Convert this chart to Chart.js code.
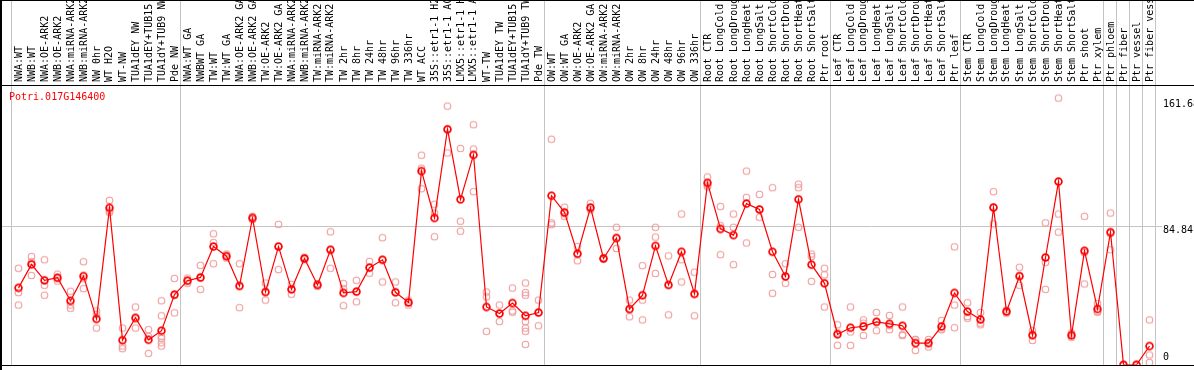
<!DOCTYPE html>
<html><head><meta charset="utf-8">
<script src="https://cdn.jsdelivr.net/npm/chart.js@4/dist/chart.umd.min.js"></script>
<style>html,body{margin:0;padding:0;background:#fff;overflow:hidden}canvas{display:block}</style>
</head><body>
<canvas id="c" width="1194" height="370"></canvas>
<script>
const geneId = 'Potri.017G146400';

const categories = [
  'NWA:WT','NWB:WT','NWA:OE-ARK2','NWB:OE-ARK2','NWA:miRNA-ARK2','NWB:miRNA-ARK2','NW 0hr','WT H2O','WT-NW','TUA1dEY NW',
  'TUA1dEY+TUB15 NW','TUA1dY+TUB9 NW','Pde NW',
  'NWA:WT GA','NWBWT GA','TW:WT','TW:WT GA','NWA:OE-ARK2 GA','NWB:OE-ARK2 GA','TW:OE-ARK2','TW:OE-ARK2 GA',
  'NWA:miRNA-ARK2 GA','NWB:miRNA-ARK2 GA','TW:miRNA-ARK2','TW:miRNA-ARK2 GA','TW 2hr','TW 8hr','TW 24hr','TW 48hr','TW 96hr','TW 336hr',
  'WT ACC','35S::etr1-1 H2O','35S::etr1-1 ACC','LMX5::etr1-1 H2O','LMX5::etr1-1 ACC','WT-TW','TUA1dEY TW','TUA1dEY+TUB15 TW','TUA1dY+TUB9 TW','Pde TW',
  'OW:WT','OW:WT GA','OW:OE-ARK2','OW:OE-ARK2 GA','OW:miRNA-ARK2','OW:miRNA-ARK2 GA','OW 2hr','OW 8hr','OW 24hr','OW 48hr','OW 96hr','OW 336hr',
  'Root CTR','Root LongCold','Root LongDrought','Root LongHeat','Root LongSalt','Root ShortCold','Root ShortDrought','Root ShortHeat','Root ShortSalt','Ptr root',
  'Leaf CTR','Leaf LongCold','Leaf LongDrought','Leaf LongHeat','Leaf LongSalt','Leaf ShortCold','Leaf ShortDrought','Leaf ShortHeat','Leaf ShortSalt','Ptr leaf',
  'Stem CTR','Stem LongCold','Stem LongDrought','Stem LongHeat','Stem LongSalt','Stem ShortCold','Stem ShortDrought','Stem ShortHeat','Stem ShortSalt','Ptr shoot',
  'Ptr xylem','Ptr phloem','Ptr fiber','Ptr vessel','Ptr fiber vessel'
];

const meanValues = [
  47.1, 61.5, 51.7, 53.3, 39.2, 54.3, 28.1, 96.1, 15.1, 28.8,
  15.3, 20.9, 43.0, 51.5, 53.5, 72.4, 66.5, 48.3, 89.9, 44.6,
  72.4, 46.2, 65.1, 48.9, 70.4, 44.0, 44.8, 59.5, 64.3, 44.4,
  38.2, 118.6, 89.9, 144.2, 101.3, 128.5, 35.4, 31.4, 37.8, 30.0,
  32.0, 103.5, 93.3, 68.0, 96.3, 65.1, 77.6, 34.2, 42.6, 72.8,
  48.9, 69.2, 43.4, 111.4, 83.2, 79.4, 98.7, 95.1, 69.2, 54.1,
  101.3, 61.3, 49.9, 18.7, 22.7, 23.5, 26.3, 25.1, 23.9, 13.3,
  13.3, 23.5, 44.0, 32.6, 27.7, 96.3, 32.6, 54.3, 18.1, 65.7,
  112.2, 18.1, 69.8, 34.2, 81.2, 0, 0, 11.5
];

const replicateValues = [
  [59.1,44.2,36.6],[66.3,63.1,54.7],[64.3,48.7,42.6],[55.5,53.1,51.3],[45.0,36.6,34.6],
  [63.1,52.7,46.6],[33.0,31.0,22.5],[100.7,94.3,93.3],[22.5,11.5,9.9],[35.4,28.1,22.5],
  [21.5,17.3,7.0],[39.2,30.0,17.5,16.1,13.5,11.5],[52.9,42.6,31.8],[53.1,51.5,49.9],[60.9,53.1,46.2],
  [80.2,74.8,61.9],[67.8,66.5,65.3],[61.9,48.3,35.0],[90.9,89.9,88.9],[50.1,44.6,39.6],
  [86.0,72.4,58.3],[49.3,46.2,43.2],[65.9,65.1,64.3],[49.7,48.9,48.1],[81.4,70.4,59.1],
  [49.7,46.6,36.2],[51.7,44.8,38.6],[63.3,59.5,56.1],[77.8,64.3,50.7],[50.7,44.4,38.0],
  [39.6,38.2,36.6],[128.3,120.4,107.8],[98.3,92.9,78.4],[158.4,144.2,129.7],[132.5,87.9,81.8],
  [147.0,132.1,106.0],[44.6,41.6,20.5],[36.6,31.4,26.5],[47.0,33.0,32.2],[50.1,44.2,42.6,26.5,22.5,20.5,12.5],
  [39.6,32.0,23.9],[138.1,86.9,85.8],[96.5,92.5,90.9],[72.4,68.0,63.7],[98.9,95.3,94.9],
  [65.7,65.1,64.7],[84.2,77.6,71.2],[39.6,33.8,29.4],[60.7,39.6,27.5],[84.2,78.2,55.9],
  [66.7,48.9,30.6],[92.3,64.3,50.7],[56.7,43.4,30.0],[115.0,110.0,109.0],[96.9,85.2,67.4],
  [92.3,84.2,61.3],[118.6,102.5,74.6],[104.3,95.1,90.3],[108.4,55.3,43.8],[61.9,54.1,49.9],
  [110.6,108.4,84.2],[67.8,66.3,51.1],[59.1,55.1,35.4],[24.5,19.5,11.9],[35.4,20.1,11.9],
  [27.5,25.5,17.9],[32.0,26.3,20.9],[30.2,23.9,21.5],[35.4,18.5,17.9],[15.5,15.3,8.8],
  [15.5,13.5,10.9],[27.1,21.9,21.5],[72.2,36.6,22.7],[38.0,29.6,28.5],[32.0,25.5,24.5],
  [106.0,96.5,86.3],[33.6,32.6,31.6],[59.7,54.3,48.7],[20.9,18.5,14.9],[86.9,62.7,46.2],
  [163.3,92.3,81.2],[19.5,18.1,16.9],[90.9,68.8,49.5],[37.6,32.6,32.2],[92.9,80.4,70.4],
  [0,0,0],[0,0,0],[27.5,6.0,1.4]
];

const yTickValues = [0, 84.84, 161.68];
const yTickLabels = ['0', '84.84', '161.68'];
const groupLastIndex = [12, 40, 52, 62, 72, 83, 84, 85, 86, 87];

const MONO = '"DejaVu Sans Mono", "Liberation Mono", monospace';

function makeMarker(color, lw, r) {
  const s = 13, c = document.createElement('canvas');
  c.width = s; c.height = s;
  const g = c.getContext('2d');
  g.strokeStyle = color; g.lineWidth = lw;
  g.beginPath(); g.arc(6.5, 6.5, r, 0, Math.PI * 2); g.stroke();
  return c;
}
const meanMarker = makeMarker('#ff0000', 1.7, 3.4);
const repMarker = makeMarker('#f09c9c', 1.1, 3.3);

const maxReps = Math.max(...replicateValues.map(r => r.length));
const repDatasets = [];
for (let k = 0; k < maxReps; k++) {
  repDatasets.push({
    label: 'replicate ' + (k + 1),
    data: replicateValues.map(r => (k < r.length ? r[k] : null)),
    showLine: false,
    pointStyle: repMarker,
    pointRadius: 4,
    borderColor: '#f09c9c',
    backgroundColor: '#f09c9c'
  });
}

const framePlugin = {
  id: 'frame',
  beforeDraw(chart) {
    const {ctx, chartArea: a, scales: {x, y}} = chart;
    ctx.save();
    ctx.strokeStyle = '#c4c4c4';
    ctx.lineWidth = 1;
    const half = (x.getPixelForValue(1) - x.getPixelForValue(0)) / 2;
    const xs = [x.getPixelForValue(0) - half].concat(groupLastIndex.map(i => x.getPixelForValue(i) + half));
    ctx.beginPath();
    xs.forEach(px => { const p = Math.round(px) - 0.5; ctx.moveTo(p, 0); ctx.lineTo(p, a.bottom); });
    const gy = Math.round(y.getPixelForValue(yTickValues[1])) + 0.5;
    ctx.moveTo(0, gy); ctx.lineTo(a.right + 6, gy);
    ctx.stroke();
    // category labels, rotated, reading bottom to top
    ctx.fillStyle = '#000';
    ctx.font = '10px ' + MONO;
    ctx.textAlign = 'left';
    ctx.textBaseline = 'middle';
    categories.forEach((lab, i) => {
      ctx.save();
      ctx.translate(Math.round(x.getPixelForValue(i)) + 0.5, a.top - 3);
      ctx.rotate(-Math.PI / 2);
      ctx.fillText(lab, 0, 0);
      ctx.restore();
    });
    ctx.restore();
  },
  afterDraw(chart) {
    const {ctx, chartArea: a, scales: {y}, width} = chart;
    ctx.save();
    ctx.fillStyle = '#000';
    ctx.fillRect(0, 0, width, 1);
    ctx.fillRect(0, Math.round(a.top), width, 1);
    ctx.fillRect(0, Math.round(a.bottom), width, 1);
    ctx.fillRect(0, 0, 2, chart.height);
    ctx.font = '10px ' + MONO;
    ctx.textBaseline = 'middle';
    ctx.textAlign = 'left';
    yTickValues.forEach((v, i) => {
      const py = Math.min(y.getPixelForValue(v) + 4, a.bottom - 7);
      ctx.fillText(yTickLabels[i], a.right + 7, py);
    });
    ctx.fillStyle = '#ff0000';
    ctx.fillText(geneId, 9, a.top + 12.5);
    ctx.restore();
  }
};

new Chart(document.getElementById('c'), {
  type: 'line',
  data: {
    labels: categories,
    datasets: [{
      label: geneId,
      data: meanValues,
      borderColor: '#ff0000',
      backgroundColor: '#ff0000',
      borderWidth: 1.2,
      pointStyle: meanMarker,
      pointRadius: 4,
      tension: 0
    }].concat(repDatasets)
  },
  options: {
    responsive: false,
    animation: false,
    devicePixelRatio: 1,
    layout: {padding: {left: 12, right: 0, top: 0, bottom: 1}},
    plugins: {legend: {display: false}, tooltip: {enabled: false}, title: {display: false}},
    scales: {
      x: {
        type: 'category',
        position: 'top',
        offset: true,
        grid: {display: false},
        border: {display: false},
        ticks: {display: false},
        afterFit(s) { s.height = 85; s.paddingLeft = 0; s.paddingRight = 0; }
      },
      y: {
        position: 'right',
        min: 0,
        max: 171.3,
        grid: {display: false},
        border: {display: false},
        ticks: {display: false},
        afterFit(s) { s.width = 38; s.paddingTop = 0; s.paddingBottom = 0; }
      }
    }
  },
  plugins: [framePlugin]
});
</script>
</body></html>
